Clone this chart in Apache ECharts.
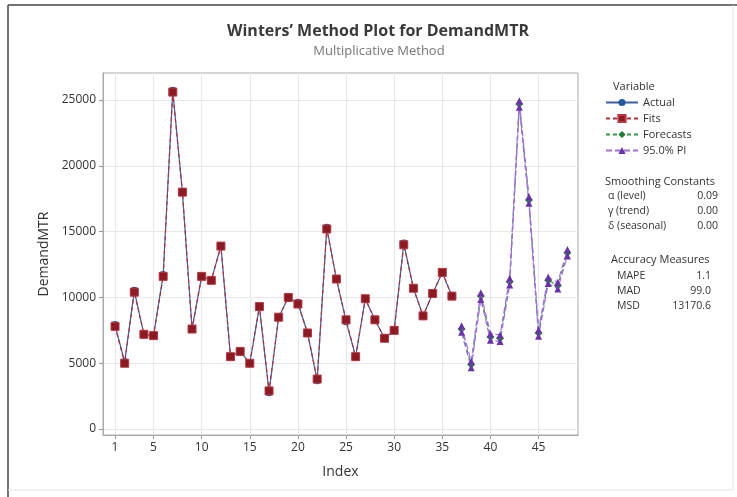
<!DOCTYPE html>
<html>
<head>
<meta charset="utf-8">
<script src="https://cdn.jsdelivr.net/npm/echarts@6/dist/echarts.min.js"></script>
<style>
html,body{margin:0;padding:0;background:#fff;}
#c{width:737px;height:497px;}
</style>
</head>
<body>
<div id="c"></div>
<script>
// Data
var actualIdx = [1,2,3,4,5,6,7,8,9,10,11,12,13,14,15,16,17,18,19,20,21,22,23,24,25,26,27,28,29,30,31,32,33,34,35,36];
var actual = [7900,5100,10500,7200,7100,11700,25700,18000,7600,11600,11300,13900,5500,5900,5000,9300,2800,8500,10000,9600,7300,3700,15300,11400,8200,5500,9900,8300,6900,7500,14100,10700,8600,10300,11900,10100];
var fits = [7800,5000,10400,7200,7100,11600,25600,18000,7600,11600,11300,13900,5500,5900,5000,9300,2900,8500,10000,9500,7300,3800,15200,11400,8300,5500,9900,8300,6900,7500,14000,10700,8600,10300,11900,10100];
var fcIdx = [37,38,39,40,41,42,43,44,45,46,47,48];
var forecasts = [7600,4900,10100,7000,6900,11200,24700,17400,7300,11300,10900,13400];
var piUpper = [7850,5150,10350,7250,7150,11450,24950,17650,7550,11550,11150,13650];
var piLower = [7350,4650,9850,6750,6650,10950,24450,17150,7050,11050,10650,13150];
var xTicks = [1,5,10,15,20,25,30,35,40,45];
var yTicks = [0,5000,10000,15000,20000,25000];

function pairs(xs, ys){ return xs.map(function(x,i){return [x, ys[i]];}); }

var FONT = '"Open Sans", "Noto Sans", sans-serif';
var chart = echarts.init(document.getElementById('c'), null, {renderer:'canvas'});

var txt = function(x,y,t,opt){
  opt = opt || {};
  return {type:'text', x:x, y:y, style:{text:t, x:0, y:0, fill:opt.fill||'#333', font:(opt.weight||'normal')+' '+(opt.size||11)+'px '+FONT, textAlign:opt.align||'left', textVerticalAlign:'middle'}};
};

var option = {
  backgroundColor:'#fff',
  animation:false,
  grid:{left:103, right:159, top:73, bottom:62, show:true, borderColor:'#a9a9a9', borderWidth:1, backgroundColor:'#fff'},
  xAxis:{
    type:'value', min:-0.25, max:49.1,
    name:'Index', nameLocation:'middle', nameGap:30,
    nameTextStyle:{fontFamily:FONT, fontSize:14, color:'#333'},
    axisLine:{show:true, onZero:false, lineStyle:{color:'#a9a9a9'}},
    axisTick:{show:true, length:4, customValues:xTicks, lineStyle:{color:'#999'}},
    axisLabel:{customValues:xTicks, fontFamily:FONT, fontSize:12, color:'#333', margin:7, formatter:function(v){return String(v);}},
    splitLine:{show:true, lineStyle:{color:'#e8e8e8'}}
  },
  yAxis:{
    type:'value', min:-450, max:27050,
    name:'DemandMTR', nameLocation:'middle', nameGap:52,
    nameTextStyle:{fontFamily:FONT, fontSize:14, color:'#333'},
    axisLine:{show:true, onZero:false, lineStyle:{color:'#a9a9a9'}},
    axisTick:{show:true, length:4, customValues:yTicks, lineStyle:{color:'#999'}},
    axisLabel:{customValues:yTicks, fontFamily:FONT, fontSize:12, color:'#333', margin:7, formatter:function(v){return String(v);}},
    splitLine:{show:true, lineStyle:{color:'#e8e8e8'}}
  },
  legend:{
    orient:'vertical', left:600, top:91, itemWidth:32, itemHeight:9, itemGap:3,
    textStyle:{fontFamily:FONT, fontSize:11, color:'#333', lineHeight:13},
    data:['Actual','Fits','Forecasts','95.0% PI']
  },
  series:[
    {name:'Actual', type:'line', data:pairs(actualIdx, actual), symbol:'circle', symbolSize:8,
     lineStyle:{color:'#3a5ea8', width:1.2}, itemStyle:{color:'#1f5aa0'}, z:2},
    {name:'Fits', type:'line', data:pairs(actualIdx, fits), symbol:'rect', symbolSize:8,
     lineStyle:{color:'#b0303a', width:1.2, type:[4,3]}, itemStyle:{color:'#8a1a24', borderColor:'#b83842', borderWidth:1}, z:3},
    {name:'Forecasts', type:'line', data:pairs(fcIdx, forecasts), symbol:'diamond', symbolSize:8,
     lineStyle:{color:'#2e9a46', width:1.2, type:[4,3]}, itemStyle:{color:'#1e7a36'}, z:2},
    {name:'95.0% PI', type:'line', data:pairs(fcIdx, piUpper), symbol:'triangle', symbolSize:7,
     lineStyle:{color:'#a070d8', width:1.2, type:[6,3]}, itemStyle:{color:'#6a32a8'}, z:4},
    {name:'95.0% PI', type:'line', data:pairs(fcIdx, piLower), symbol:'triangle', symbolSize:7,
     lineStyle:{color:'#a070d8', width:1.2, type:[6,3]}, itemStyle:{color:'#6a32a8'}, z:4}
  ],
  graphic:[
    {type:'line', shape:{x1:8,y1:5,x2:737,y2:5}, style:{stroke:'#444', lineWidth:1.5}},
    {type:'line', shape:{x1:8,y1:5,x2:8,y2:497}, style:{stroke:'#444', lineWidth:1.5}},
    {type:'line', shape:{x1:733,y1:5,x2:733,y2:490}, style:{stroke:'#e4e4e4', lineWidth:1}},
    {type:'line', shape:{x1:8,y1:490,x2:733,y2:490}, style:{stroke:'#e4e4e4', lineWidth:1}},
    txt(378,31,"Winters\u2019 Method Plot for DemandMTR",{size:16, weight:'bold', align:'center', fill:'#3a3a3a'}),
    txt(379,51,'Multiplicative Method',{size:13, align:'center', fill:'#777'}),
    txt(613,87,'Variable',{size:11}),
    txt(605,182,'Smoothing Constants',{size:11}),
    txt(608,196,'\u03b1 (level)',{size:10.5}),
    txt(718,196,'0.09',{size:10.5, align:'right'}),
    txt(608,211,'\u03b3 (trend)',{size:10.5}),
    txt(718,211,'0.00',{size:10.5, align:'right'}),
    txt(608,226,'\u03b4 (seasonal)',{size:10.5}),
    txt(718,226,'0.00',{size:10.5, align:'right'}),
    txt(611,260,'Accuracy Measures',{size:11}),
    txt(617,276,'MAPE',{size:10.5}),
    txt(711,276,'1.1',{size:10.5, align:'right'}),
    txt(617,291,'MAD',{size:10.5}),
    txt(711,291,'99.0',{size:10.5, align:'right'}),
    txt(617,306,'MSD',{size:10.5}),
    txt(711,306,'13170.6',{size:10.5, align:'right'})
  ]
};
chart.setOption(option);
</script>
</body>
</html>
